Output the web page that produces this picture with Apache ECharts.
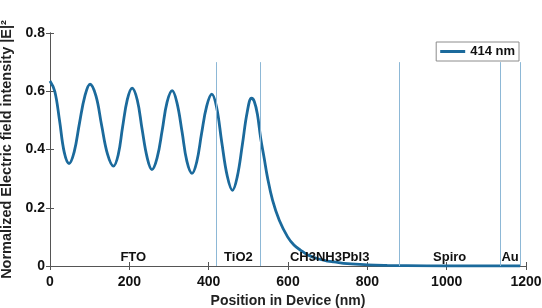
<!DOCTYPE html>
<html>
  <head>
    <meta charset="utf-8">
    <title>Electric field intensity</title>
    <script src="https://cdn.jsdelivr.net/npm/echarts@6/dist/echarts.min.js"></script>
    <style>
    html, body { margin: 0; padding: 0; background: #fff; }
    #chart { width: 542px; height: 308px; }
    </style>
  </head>
  <body>
    <div id="chart"></div>
    <script type="text/javascript">
      // position (nm) and |E|^2
      var positions = [0, 12, 24, 36, 48, 61, 74, 88, 101, 116, 130, 145, 160, 172, 183, 195, 207,
        220, 232, 245, 257, 270, 283, 295, 308, 320, 333, 345, 358, 370, 382, 395, 408,
        420, 433, 447, 460, 472, 485, 497, 508, 515, 523, 531, 540, 548, 561, 578, 599,
        615, 632, 650, 675, 700, 716, 750, 800, 850, 900, 1000, 1100, 1185];
      var intensity = [0.635, 0.60, 0.50, 0.39, 0.352, 0.392, 0.488, 0.584, 0.624, 0.583, 0.484, 0.384, 0.343, 0.382, 0.477, 0.572, 0.611,
        0.570, 0.471, 0.372, 0.331, 0.371, 0.467, 0.562, 0.602, 0.561, 0.460, 0.360, 0.318, 0.358, 0.454, 0.549, 0.590,
        0.545, 0.425, 0.308, 0.260, 0.306, 0.417, 0.527, 0.576, 0.565, 0.52, 0.44, 0.37, 0.306, 0.226, 0.157, 0.10,
        0.072, 0.054, 0.038, 0.025, 0.017, 0.014, 0.008, 0.004, 0.002, 0.001, 0, 0, 0];

      // layer boundaries (nm) and names
      var layerEnds = [420, 530, 880, 1135, 1185];
      var layerNames = ['FTO', 'TiO2', 'CH3NH3PbI3', 'Spiro', 'Au'];
      var boundaryTop = 0.7;

      var font = 'Liberation Sans, Arial, sans-serif';
      var chart = echarts.init(document.getElementById('chart'));

      var curve = positions.map(function (p, i) { return [p, intensity[i]]; });

      var lines = layerEnds.map(function (x) {
        return [{ coord: [x, 0] }, { coord: [x, boundaryTop] }];
      });
      var labels = layerNames.map(function (name, i) {
        var start = i === 0 ? 0 : layerEnds[i - 1];
        return { name: name, coord: [(start + layerEnds[i]) / 2, 0.028], value: name };
      });

      var option = {
        animation: false,
        textStyle: { fontFamily: font },
        grid: { left: 50, right: 16, top: 33, bottom: 42, outerBoundsMode: 'none', containLabel: false },
        legend: {
          top: 42, right: 23,
          itemWidth: 25, itemHeight: 3, itemGap: 4,
          padding: [3, 4, 3, 4],
          borderColor: '#8c8c8c', borderWidth: 1, backgroundColor: '#fff',
          textStyle: { fontFamily: font, fontWeight: 'bold', fontSize: 13, color: '#111' },
          icon: 'rect',
          data: ['414 nm']
        },
        xAxis: [{
          type: 'value', min: 0, max: 1200, interval: 200,
          name: 'Position in Device (nm)', nameLocation: 'middle', nameGap: 27,
          nameTextStyle: { fontFamily: font, fontWeight: 'bold', fontSize: 14, color: '#222' },
          axisLine: { lineStyle: { color: '#555', width: 1 } },
          axisTick: { inside: true, length: 4, lineStyle: { color: '#555' } },
          axisLabel: { fontFamily: font, fontWeight: 'bold', fontSize: 14, color: '#111', margin: 9,
            formatter: function (v) { return String(v); } },
          splitLine: { show: false }
        }, {
          type: 'value', min: 0, max: 1200, interval: 200, position: 'top',
          axisLine: { show: true, lineStyle: { color: '#555', width: 1 } },
          axisTick: { inside: true, length: 4, lineStyle: { color: '#555' } },
          axisLabel: { show: false }, splitLine: { show: false }
        }],
        yAxis: [{
          type: 'value', min: 0, max: 0.8, interval: 0.2,
          name: 'Normalized Electric field intensity |E|\u00b2', nameLocation: 'middle', nameGap: 29,
          nameTextStyle: { fontFamily: font, fontWeight: 'bold', fontSize: 14.5, color: '#222' },
          axisLine: { show: true, lineStyle: { color: '#555', width: 1 } },
          axisTick: { show: true, inside: true, length: 4, lineStyle: { color: '#555' } },
          axisLabel: { fontFamily: font, fontWeight: 'bold', fontSize: 14, color: '#111', margin: 5 },
          splitLine: { show: false }
        }, {
          type: 'value', min: 0, max: 0.8, interval: 0.2, position: 'right',
          axisLine: { show: true, lineStyle: { color: '#555', width: 1 } },
          axisTick: { show: true, inside: true, length: 4, lineStyle: { color: '#555' } },
          axisLabel: { show: false }, splitLine: { show: false }
        }],
        series: [{
          name: 'boundaries',
          type: 'line',
          data: [],
          silent: true,
          markLine: {
            symbol: 'none',
            silent: true,
            label: { show: false },
            lineStyle: { color: '#8db8d6', width: 1, type: 'solid' },
            data: lines
          },
          markPoint: {
            symbol: 'circle', symbolSize: 0,
            label: {
              show: true, position: 'inside',
              formatter: '{b}',
              fontFamily: font, fontWeight: 'bold', fontSize: 13, color: '#111'
            },
            data: labels
          }
        }, {
          name: '414 nm',
          type: 'line',
          data: curve,
          smooth: 0.4,
          showSymbol: false,
          lineStyle: { color: '#1b6a9c', width: 2.8 },
          itemStyle: { color: '#1b6a9c' },
          z: 3
        }]
      };
      chart.setOption(option);
    </script>
  </body>
</html>
